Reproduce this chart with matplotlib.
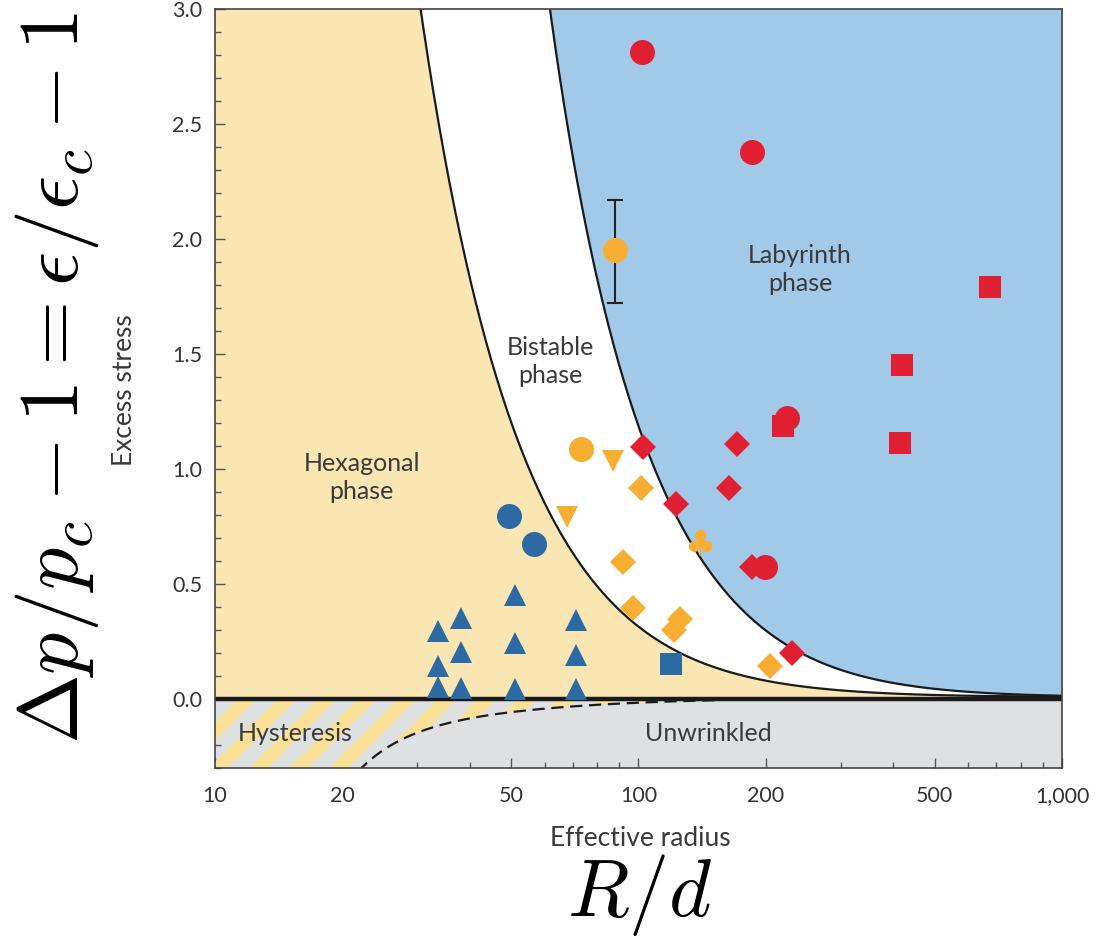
import numpy as np
import matplotlib
matplotlib.use('Agg')
import matplotlib.pyplot as plt
from matplotlib.patches import Polygon
from matplotlib.ticker import FixedLocator, FixedFormatter, NullFormatter, MultipleLocator, FormatStrFormatter

plt.rcParams['mathtext.fontset'] = 'cm'

# ---------------- data ----------------
# phase boundary hexagonal / bistable
hex_bnd_R = [30.9, 33.4, 36.5, 40.2, 42.9, 50.6, 60.7, 72.8, 87.2, 104.6, 125.3, 215.8, 315.8, 543.8, 1000]
hex_bnd_y = [3.0, 2.605, 2.17, 1.735, 1.53, 1.17, 0.88, 0.592, 0.419, 0.301, 0.185, 0.071, 0.033, 0.016, 0.011]
# phase boundary bistable / labyrinth
lab_bnd_R = [61.8, 67.1, 73.8, 81.5, 84.1, 86.4, 97.0, 108.2, 120.6, 137.2, 164.5, 183.4, 207.8, 240.6, 315.8, 453.9, 650.8, 1000]
lab_bnd_y = [3.0, 2.605, 2.17, 1.735, 1.604, 1.53, 1.243, 1.026, 0.835, 0.662, 0.474, 0.336, 0.270, 0.200, 0.113, 0.054, 0.027, 0.014]
# hysteresis boundary (dashed)
hyst_R = [21.8, 27.3, 35.9, 47.1, 61.8, 81.1, 104.5, 155.6]
hyst_y = [-0.304, -0.191, -0.104, -0.061, -0.039, -0.025, -0.015, -0.005]

blue_tri_R = [33.7, 33.7, 33.7, 38.2, 38.2, 38.2, 51.1, 51.1, 51.1, 71.1, 71.1, 71.1]
blue_tri_y = [0.294, 0.142, 0.052, 0.352, 0.204, 0.046, 0.453, 0.243, 0.043, 0.345, 0.193, 0.043]
blue_circ_R = [49.5, 56.6]
blue_circ_y = [0.794, 0.675]
blue_sq_R = [119.3]
blue_sq_y = [0.153]

orange_circ_R = [88.0, 73.0]
orange_circ_y = [1.954, 1.086]
orange_err_R = [88.0]
orange_err_y = [1.946]
orange_err = [0.224]
orange_tri_R = [87.2, 67.7]
orange_tri_y = [1.035, 0.791]
orange_dia_R = [101.4, 92.1, 97.2, 125.3, 121.3, 204.4]
orange_dia_y = [0.917, 0.595, 0.395, 0.348, 0.298, 0.145]
orange_club_R = [139.7]
orange_club_y = [0.671]

red_circ_R = [101.7, 185.0, 224.5, 198.9]
red_circ_y = [2.814, 2.380, 1.221, 0.576]
red_sq_R = [676.0, 418.3, 413.7, 219.0]
red_sq_y = [1.790, 1.450, 1.115, 1.188]
red_dia_R = [102.3, 171.1, 163.3, 122.7, 185.0, 230.0]
red_dia_y = [1.095, 1.110, 0.917, 0.849, 0.574, 0.200]

x_ticks = [10, 20, 50, 100, 200, 500, 1000]
x_ticklabels = ['10', '20', '50', '100', '200', '500', '1,000']

# ---------------- colours ----------------
C_YEL = '#FAE6B2'
C_BLUEF = '#A3C9E9'
C_GRAY = '#DFE0E2'
C_STRIPE = '#FBE197'
C_BLUE = '#2B6AA2'
C_RED = '#E01F33'
C_ORANGE = '#F7AE32'
C_TXT = '#3a3a3a'

fig = plt.figure(figsize=(11.11, 9.48), dpi=100)
ax = fig.add_axes([0.1935, 0.1899, 0.7624, 0.8006])
ax.set_xscale('log')
ax.set_xlim(10, 1000)
ax.set_ylim(-0.3, 3.0)


def smooth(Rs, ys, deg=3, n=500, neg=False, start=None):
    lx = np.log10(Rs)
    ly = np.log10(-np.asarray(ys) if neg else np.asarray(ys))
    p = np.polyfit(lx, ly, deg)
    g0 = lx[0] if start is None else np.log10(start)
    g = np.linspace(g0, lx[-1], n)
    v = 10 ** np.polyval(p, g)
    return 10 ** g, (-v if neg else v)


hR, hy = smooth(hex_bnd_R, hex_bnd_y, deg=4, start=28.5)
lR, ly = smooth(lab_bnd_R, lab_bnd_y, deg=4, start=57.0)
dR, dy = smooth(hyst_R, hyst_y, deg=3, neg=True)

# fills
hx_fill = np.concatenate([[10], hR])
hy_fill = np.concatenate([[3.5], np.minimum(hy, 3.5)])
ax.fill_between(hx_fill, 0, hy_fill, color=C_YEL, lw=0, zorder=1)
ax.fill_between(lR, np.minimum(ly, 3.5), 3.5, color=C_BLUEF, lw=0, zorder=1)
ax.axhspan(-0.3, 0, color=C_GRAY, lw=0, zorder=1)

# hysteresis hatched region
poly_x = np.concatenate([[10], dR, [dR[-1] * 1.3, 10]])
poly_y = np.concatenate([[-0.31], dy, [0, 0]])
hpatch = Polygon(np.column_stack([poly_x, poly_y]), closed=True, facecolor=C_GRAY,
                 edgecolor='none', transform=ax.transData, zorder=1.5)
ax.add_patch(hpatch)
ratio = 759.0 / 847.0
for u0 in np.arange(-0.25, 0.6, 40.0 / 847.0):
    ln, = ax.plot([u0, u0 + ratio * 0.14], [-0.02, 0.12], transform=ax.transAxes,
                  color=C_STRIPE, lw=9.7, solid_capstyle='butt', zorder=1.6)
    ln.set_clip_path(hpatch)

# curves
ax.plot(hR, hy, color='#1a1a1a', lw=1.6, zorder=3)
ax.plot(lR, ly, color='#1a1a1a', lw=1.6, zorder=3)
ax.plot(dR, dy, color='#1a1a1a', lw=1.6, ls=(0, (5.5, 3)), zorder=3)
ax.axhline(0, color='#1a1a1a', lw=3.2, zorder=4)

# data markers
ax.errorbar(orange_err_R, orange_err_y, yerr=orange_err, fmt='none', ecolor='#222222',
            elinewidth=1.5, capsize=6, capthick=1.5, zorder=5)
ms_c, ms_s, ms_d, ms_t = 18, 16, 13, 15.5
ax.plot(blue_tri_R, blue_tri_y, '^', color=C_BLUE, ms=ms_t, mew=0, zorder=6)
ax.plot(blue_circ_R, blue_circ_y, 'o', color=C_BLUE, ms=ms_c, mew=0, zorder=6)
ax.plot(blue_sq_R, blue_sq_y, 's', color=C_BLUE, ms=ms_s, mew=0, zorder=6)
ax.plot(orange_circ_R, orange_circ_y, 'o', color=C_ORANGE, ms=ms_c, mew=0, zorder=6)
ax.plot(orange_tri_R, orange_tri_y, 'v', color=C_ORANGE, ms=ms_t, mew=0, zorder=6)
ax.plot(orange_dia_R, orange_dia_y, 'D', color=C_ORANGE, ms=ms_d, mew=0, zorder=6)
for r, v in zip(orange_club_R, orange_club_y):
    ax.text(r, v, '\u2663', color=C_ORANGE, fontsize=25, ha='center', va='center',
            family='DejaVu Sans', zorder=6)
ax.plot(red_sq_R, red_sq_y, 's', color=C_RED, ms=ms_s, mew=0, zorder=6)
ax.plot(red_circ_R, red_circ_y, 'o', color=C_RED, ms=ms_c, mew=0, zorder=6)
ax.plot(red_dia_R, red_dia_y, 'D', color=C_RED, ms=ms_d, mew=0, zorder=6)

# region labels
lab_kw = dict(color=C_TXT, fontsize=18, ha='center', va='center', family='Lato',
              linespacing=1.25, zorder=7)
ax.text(22.2, 0.962, 'Hexagonal\nphase', **lab_kw)
ax.text(61.8, 1.466, 'Bistable\nphase', **lab_kw)
ax.text(240.6, 1.866, 'Labyrinth\nphase', **lab_kw)
ax.text(15.5, -0.151, 'Hysteresis', **lab_kw)
ax.text(145.9, -0.151, 'Unwrinkled', **lab_kw)

# ticks
ax.xaxis.set_major_locator(FixedLocator(x_ticks))
ax.xaxis.set_major_formatter(FixedFormatter(x_ticklabels))
minors = [30, 40, 60, 70, 80, 90, 300, 400, 600, 700, 800, 900]
ax.xaxis.set_minor_locator(FixedLocator(minors))
ax.xaxis.set_minor_formatter(NullFormatter())
ax.yaxis.set_major_locator(MultipleLocator(0.5))
ax.yaxis.set_minor_locator(MultipleLocator(0.1))
ax.yaxis.set_major_formatter(FormatStrFormatter('%.1f'))
ax.tick_params(which='major', direction='in', length=7, width=1.0, color='#555555',
               labelsize=15.5, labelcolor='#333333')
ax.tick_params(axis='x', which='major', pad=13)
ax.tick_params(axis='y', which='major', pad=9)
ax.tick_params(which='minor', direction='in', length=4, width=1.0, color='#555555')
for lab in ax.get_xticklabels() + ax.get_yticklabels():
    lab.set_family('Lato')
for s in ax.spines.values():
    s.set_color('#444444')
    s.set_linewidth(1.2)
    s.set_zorder(8)

# axis titles
fig.text(125 / 1111, 1 - 390 / 948, 'Excess stress', rotation=90, ha='center', va='center',
         fontsize=19, color=C_TXT, family=['Liberation Sans Narrow', 'Lato'])
fig.text(640 / 1111, 1 - 838 / 948, 'Effective radius', ha='center', va='center',
         fontsize=19, color=C_TXT, family=['Liberation Sans Narrow', 'Lato'])
fig.text(57 / 1111, 1 - 378 / 948, r'$\Delta p/p_c - 1 = \epsilon/\epsilon_c - 1$',
         rotation=90, ha='center', va='center', fontsize=60.5, color='black')
fig.text(640 / 1111, 1 - 895 / 948, r'$R/d$', ha='center', va='center',
         fontsize=58, color='black')

fig.savefig('out.png', dpi=100)
